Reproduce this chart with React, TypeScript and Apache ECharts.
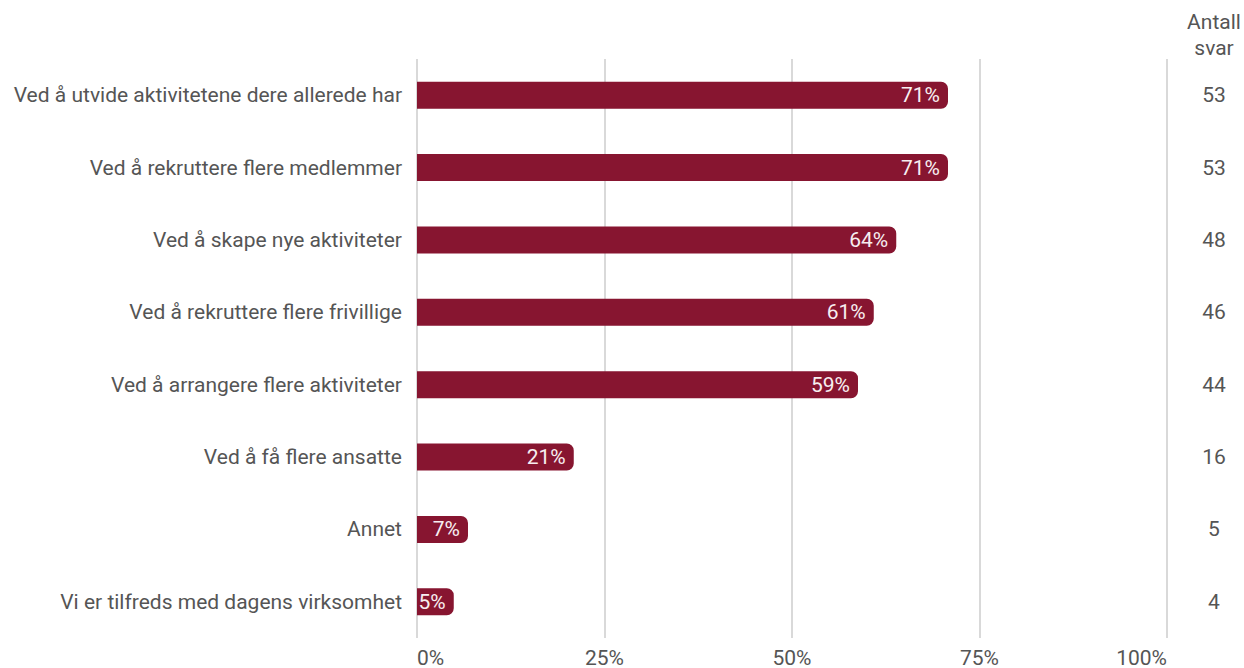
import React, { useEffect, useRef } from "react";
import * as echarts from "echarts";

const categories = [
  "Ved å utvide aktivitetene dere allerede har",
  "Ved å rekruttere flere medlemmer",
  "Ved å skape nye aktiviteter",
  "Ved å rekruttere flere frivillige",
  "Ved å arrangere flere aktiviteter",
  "Ved å få flere ansatte",
  "Annet",
  "Vi er tilfreds med dagens virksomhet",
];
const percentValues = [70.8, 70.8, 63.9, 60.9, 58.8, 20.9, 6.8, 4.9];
const counts = [53, 53, 48, 46, 44, 16, 5, 4];
const countHeader = "Antall\nsvar";

export default function App() {
  const ref = useRef<HTMLDivElement>(null);
  useEffect(() => {
    const chart = echarts.init(ref.current!, null, { renderer: "svg" });
    const font = "Roboto";
    const fs = 21;
    chart.setOption({
      animation: false,
      textStyle: { fontFamily: font },
      grid: { left: 417, right: 77, top: 59, bottom: 28, containLabel: false },
      xAxis: {
        type: "value",
        min: 0,
        max: 100,
        interval: 25,
        axisLine: { show: false },
        axisTick: { show: false },
        splitLine: { show: true, lineStyle: { color: "#cccccc", width: 1.5 } },
        axisLabel: {
          formatter: "{value}%",
          color: "#555555",
          fontSize: fs,
          fontFamily: font,
          margin: 9,
          alignMinLabel: "left",
          alignMaxLabel: "right",
        },
      },
      yAxis: [
        {
          type: "category",
          data: categories,
          inverse: true,
          axisLine: { show: false },
          axisTick: { show: false },
          axisLabel: { color: "#555555", fontSize: fs, fontFamily: font, margin: 15 },
        },
        {
          type: "category",
          data: counts.map(String),
          inverse: true,
          position: "right",
          axisLine: { show: false },
          axisTick: { show: false },
          axisLabel: {
            color: "#555555",
            fontSize: fs,
            fontFamily: font,
            align: "center",
            margin: 47,
          },
        },
      ],
      graphic: [
        {
          type: "text",
          x: 1214,
          y: 9,
          style: {
            text: countHeader,
            fill: "#555555",
            font: `${fs}px ${font}`,
            align: "center",
            verticalAlign: "top",
            lineHeight: 26,
          },
        },
      ],
      series: [
        {
          type: "bar",
          data: percentValues,
          yAxisIndex: 0,
          barWidth: 27,
          itemStyle: { color: "#871530", borderRadius: [0, 7, 7, 0] },
          label: {
            show: true,
            position: "insideRight",
            distance: 8,
            color: "#f7eef0",
            fontSize: fs,
            fontFamily: font,
            formatter: (p: any) => Math.round(p.value) + "%",
          },
        },
      ],
    });
    return () => chart.dispose();
  }, []);
  return <div ref={ref} style={{ width: 1244, height: 668, position: "absolute", left: 0, top: 0 }} />;
}
